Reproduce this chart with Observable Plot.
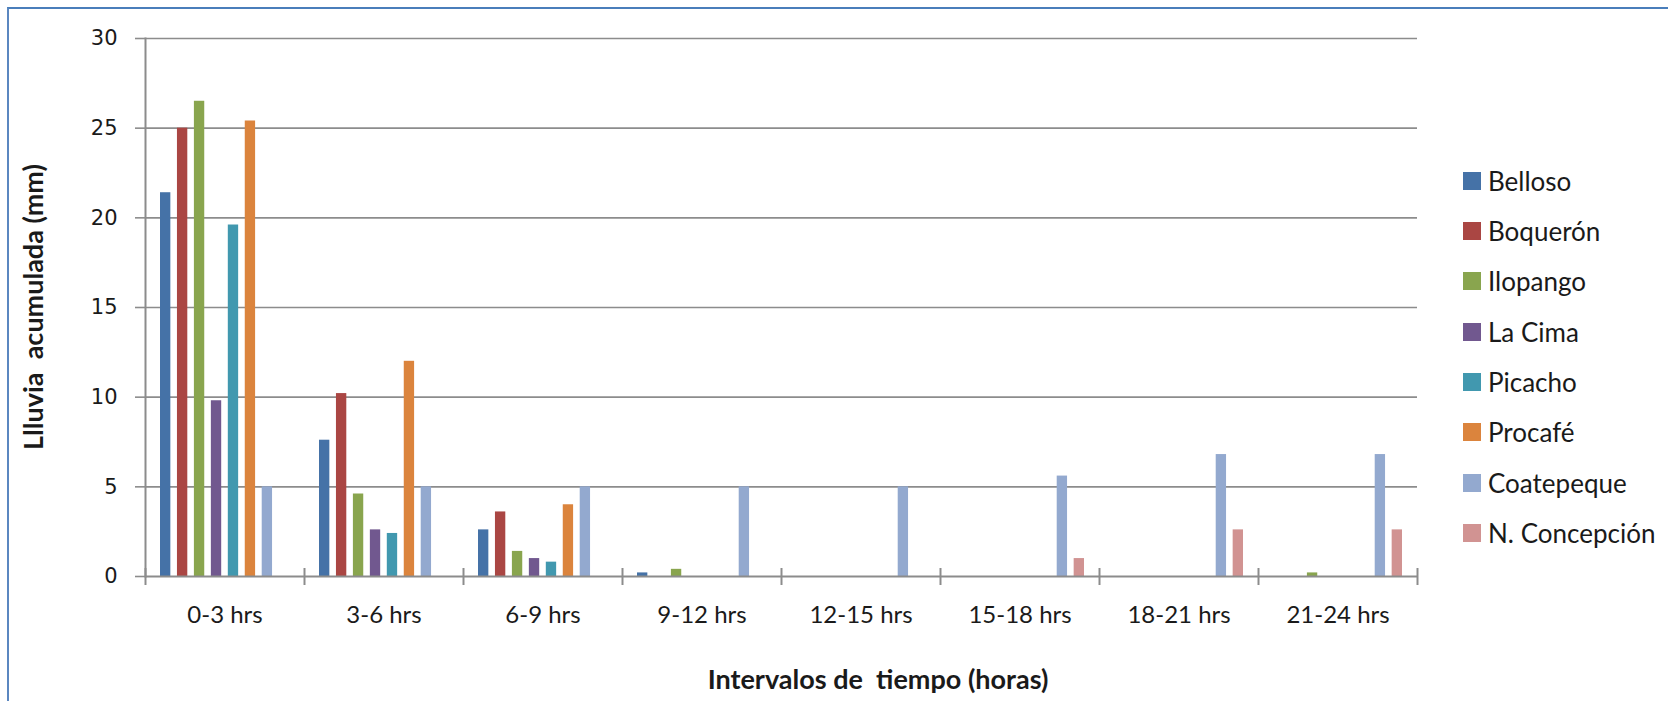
<!DOCTYPE html>
<html><head><meta charset="utf-8">
<script src="https://cdn.jsdelivr.net/npm/d3@7"></script>
<script src="https://cdn.jsdelivr.net/npm/@observablehq/plot@0.6"></script>
<style>
html,body{margin:0;padding:0;background:#fff;overflow:hidden;}
#wrap{position:relative;width:1668px;height:701px;overflow:hidden;font-family:Lato,sans-serif;color:#1a1a1a;}
#border{position:absolute;left:7px;top:7px;width:2000px;height:2000px;border-top:2px solid #4a7ebb;border-left:2px solid #5b87c0;box-sizing:border-box;}
#chart{position:absolute;left:0;top:0;}
#ytitle{position:absolute;left:32px;top:307px;transform:translate(-50%,-50%) rotate(-90deg);font-weight:bold;font-size:27px;white-space:pre;}
#xtitle{position:absolute;left:878px;top:678px;transform:translate(-50%,-50%);font-weight:bold;font-size:27px;white-space:pre;}
#legend{position:absolute;left:1463px;top:0;}
.lg{position:absolute;left:0;height:26px;display:flex;align-items:center;white-space:nowrap;font-size:26px;}
.sw{width:18px;height:18px;margin-right:7px;flex:none;}
</style></head><body>
<div id="wrap">
<div id="border"></div>
<div id="chart"></div>
<div id="ytitle">Llluvia  acumulada (mm)</div>
<div id="xtitle">Intervalos de  tiempo (horas)</div>
<div id="legend"></div>
</div>
<script>
const intervals = ["0-3 hrs","3-6 hrs","6-9 hrs","9-12 hrs","12-15 hrs","15-18 hrs","18-21 hrs","21-24 hrs"];
const stations = ["Belloso","Boquerón","Ilopango","La Cima","Picacho","Procafé","Coatepeque","N. Concepción"];
const colors = ["#4572a7","#aa4643","#89a54e","#71588f","#4198af","#db843d","#93a9cf","#d19392"];
const belloso     = [21.4, 7.6, 2.6, 0.2, 0, 0, 0, 0];
const boqueron    = [25.0, 10.2, 3.6, 0, 0, 0, 0, 0];
const ilopango    = [26.5, 4.6, 1.4, 0.4, 0, 0, 0, 0.2];
const laCima      = [9.8, 2.6, 1.0, 0, 0, 0, 0, 0];
const picacho     = [19.6, 2.4, 0.8, 0, 0, 0, 0, 0];
const procafe     = [25.4, 12.0, 4.0, 0, 0, 0, 0, 0];
const coatepeque  = [5.0, 5.0, 5.0, 5.0, 5.0, 5.6, 6.8, 6.8];
const nConcepcion = [0, 0, 0, 0, 0, 1.0, 2.6, 2.6];
const yTicks = [0, 5, 10, 15, 20, 25, 30];

const series = [belloso, boqueron, ilopango, laCima, picacho, procafe, coatepeque, nConcepcion];
const data = [];
series.forEach((vals, si) => vals.forEach((v, ii) => data.push({interval: intervals[ii], station: stations[si], value: v})));

const gray = "#8c8c8c";
const vtick = {draw(ctx, size){ const r = Math.sqrt(size / Math.PI); ctx.moveTo(0, -r); ctx.lineTo(0, r); }};

const chart = Plot.plot({
  width: 1668, height: 701,
  marginLeft: 145, marginRight: 251, marginTop: 38, marginBottom: 125,
  style: {fontFamily: "Lato, sans-serif", color: "#1a1a1a", background: "transparent"},
  fx: {domain: intervals, padding: 0, label: null, round: false},
  x: {domain: stations, paddingInner: 0.39, paddingOuter: 0.885, axis: null, round: false},
  y: {domain: [0, 30]},
  color: {domain: stations, range: colors},
  marks: [
    Plot.gridY(yTicks.slice(1), {stroke: gray, strokeOpacity: 1, strokeWidth: 1.6}),
    Plot.barY(data, {fx: "interval", x: "station", y: "value", fill: "station"}),
    Plot.ruleY([0], {stroke: gray, strokeWidth: 2.2}),
    Plot.frame({anchor: "left", facetAnchor: "left", stroke: gray, strokeWidth: 2}),
    Plot.dot(intervals, {fx: d => d, frameAnchor: "bottom-left", symbol: vtick, r: 8.5, fill: "none", stroke: gray, strokeWidth: 2}),
    Plot.dot(intervals.slice(-1), {fx: d => d, frameAnchor: "bottom-right", symbol: vtick, r: 8.5, fill: "none", stroke: gray, strokeWidth: 2}),
    Plot.axisY({ticks: yTicks, tickSize: 10, tickPadding: 18, label: null, fontFamily: "DejaVu Sans", fontSize: 21, stroke: gray, strokeWidth: 1.6, fill: "#1a1a1a"}),
    Plot.axisFx({anchor: "bottom", tickSize: 0, tickPadding: 29, label: null, fontSize: 24, fill: "#1a1a1a"})
  ]
});
document.getElementById("chart").appendChild(chart);

const lg = document.getElementById("legend");
stations.forEach((s, i) => {
  const row = document.createElement("div");
  row.className = "lg";
  row.style.top = (180.7 + i * 50.3 - 13) + "px";
  const sw = document.createElement("div");
  sw.className = "sw"; sw.style.background = colors[i];
  const t = document.createElement("span"); t.textContent = s;
  row.appendChild(sw); row.appendChild(t);
  lg.appendChild(row);
});
</script>
</body></html>
